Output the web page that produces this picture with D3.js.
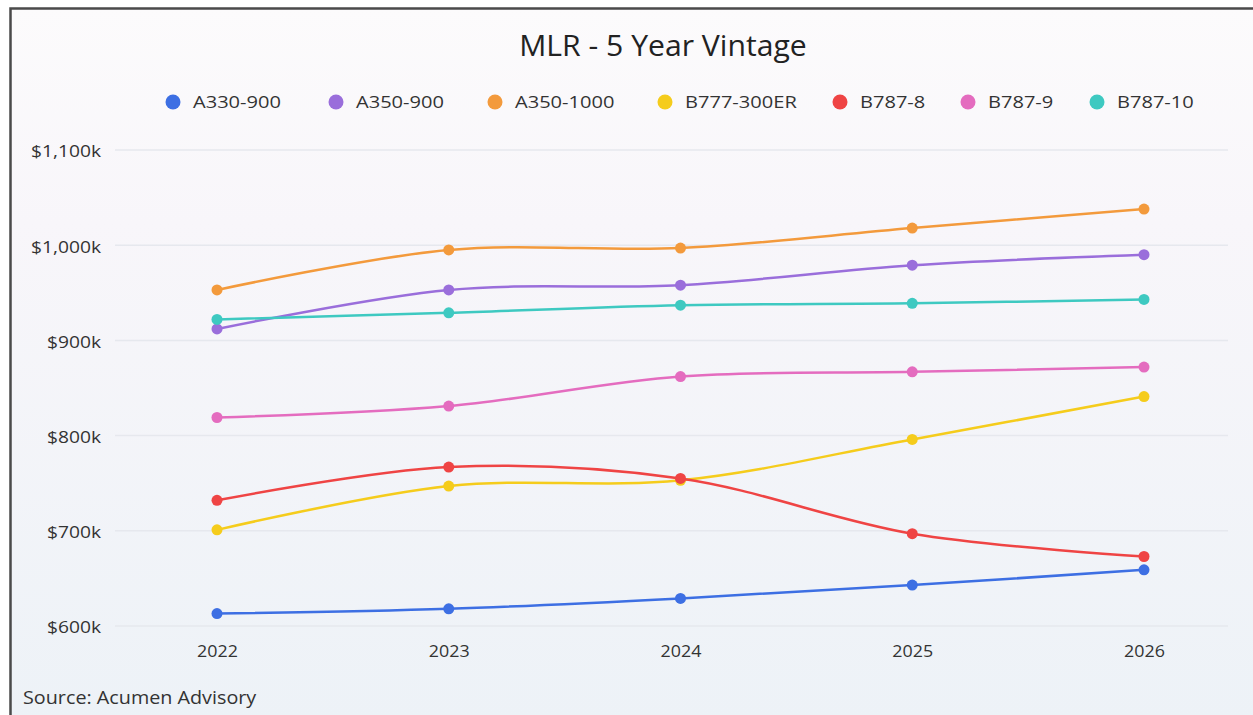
<!DOCTYPE html>
<html><head><meta charset="utf-8">
<script src="https://cdn.jsdelivr.net/npm/d3@7"></script>
<style>html,body{margin:0;padding:0;background:#fff;}svg{display:block;}</style>
</head><body>
<svg id="chart" width="1253" height="715"></svg>
<script>
const years = ["2022","2023","2024","2025","2026"];
const seriesNames = ["A330-900","A350-900","A350-1000","B777-300ER","B787-8","B787-9","B787-10"];
const seriesColors = ["#3d6fe3","#9a6edb","#f39a3c","#f5cc1c","#ef4444","#e46cbf","#3ec9c1"];
const a330_900  = [613, 618, 629, 643, 659];
const a350_900  = [912, 953, 958, 979, 990];
const a350_1000 = [953, 995, 997, 1018, 1038];
const b777_300er= [701, 747, 753, 796, 841];
const b787_8    = [732, 767, 755, 697, 673];
const b787_9    = [819, 831, 862, 867, 872];
const b787_10   = [922, 929, 937, 939, 943];
const yTicks = [600, 700, 800, 900, 1000, 1100];
const titleText = "MLR - 5 Year Vintage";
const sourceText = "Source: Acumen Advisory";

const seriesValues = [a330_900,a350_900,a350_1000,b777_300er,b787_8,b787_9,b787_10];
const series = seriesNames.map((n,i)=>({name:n,color:seriesColors[i],values:seriesValues[i]}));

const svg = d3.select("#chart");
const W = 1253, H = 715;
const defs = svg.append("defs");
const grad = defs.append("linearGradient").attr("id","bg").attr("x1",0).attr("y1",0).attr("x2",0).attr("y2",1);
grad.append("stop").attr("offset","0%").attr("stop-color","#fcfbfc");
grad.append("stop").attr("offset","30%").attr("stop-color","#f8f6fa");
grad.append("stop").attr("offset","100%").attr("stop-color","#edf2f7");
svg.append("rect").attr("x",10).attr("y",8).attr("width",W).attr("height",H).attr("fill","url(#bg)");
svg.append("path").attr("d",`M10.5,${H} V8.5 H${W}`).attr("fill","none").attr("stroke","#4a4a4a").attr("stroke-width",2.5);

const fontMain = "'Open Sans', 'Noto Sans', sans-serif";
function stretch(sel, s){
  sel.each(function(){
    const L = this.getComputedTextLength();
    d3.select(this).attr("textLength", L*s).attr("lengthAdjust","spacingAndGlyphs");
  });
}

const x = d3.scalePoint().domain(years).range([217,1144]);
const y = d3.scaleLinear().domain([600,1100]).range([626,150]);

svg.append("g").selectAll("line").data(yTicks).join("line")
  .attr("x1",115).attr("x2",1228).attr("y1",d=>y(d)).attr("y2",d=>y(d))
  .attr("stroke","#e6e8ee").attr("stroke-width",1.5);

const yAxis = d3.axisLeft(y).tickValues(yTicks).tickSize(0).tickPadding(0)
  .tickFormat(d=>"$"+d3.format(",")(d)+"k");
const gy = svg.append("g").attr("transform","translate(101,1)").call(yAxis);
gy.select(".domain").remove();
gy.selectAll("text").attr("font-family",fontMain).attr("font-size",17).attr("fill","#333").attr("dy","0.35em");
stretch(gy.selectAll("text"), 1.13);

const xAxis = d3.axisBottom(x).tickSize(0).tickPadding(0);
const gx = svg.append("g").attr("transform","translate(0,645)").call(xAxis);
gx.select(".domain").remove();
gx.selectAll("text").attr("font-family",fontMain).attr("font-size",17).attr("fill","#333").attr("dy","0.71em");
stretch(gx.selectAll("text"), 1.05);

const line = d3.line().x((d,i)=>x(years[i])).y(d=>y(d)).curve(d3.curveCatmullRom.alpha(0.5));
const gs = svg.append("g").selectAll("g").data(series).join("g");
gs.append("path").attr("d",d=>line(d.values)).attr("fill","none")
  .attr("stroke",d=>d.color).attr("stroke-width",2.5);
gs.each(function(s){
  d3.select(this).selectAll("circle").data(s.values).join("circle")
    .attr("cx",(d,i)=>x(years[i])).attr("cy",d=>y(d)).attr("r",5.5)
    .attr("fill",s.color);
});

const title = svg.append("text").attr("x",663).attr("y",56).attr("text-anchor","middle")
  .attr("font-family",fontMain).attr("font-size",29).attr("fill","#222")
  .text(titleText);
stretch(title, 1.04);

const legendX = [173,336,495,665,840,968,1097];
const lg = svg.append("g").selectAll("g").data(series).join("g")
  .attr("transform",(d,i)=>`translate(${legendX[i]},102)`);
lg.append("circle").attr("r",7.5).attr("fill",d=>d.color);
const lt = lg.append("text").attr("x",20).attr("dy","0.36em").attr("font-family",fontMain)
  .attr("font-size",17).attr("fill","#333").text(d=>d.name);
stretch(lt, 1.18);

const src = svg.append("text").attr("x",23).attr("y",704).attr("font-family",fontMain)
  .attr("font-size",19).attr("fill","#333").text(sourceText);
stretch(src, 1.04);
</script>
</body></html>
